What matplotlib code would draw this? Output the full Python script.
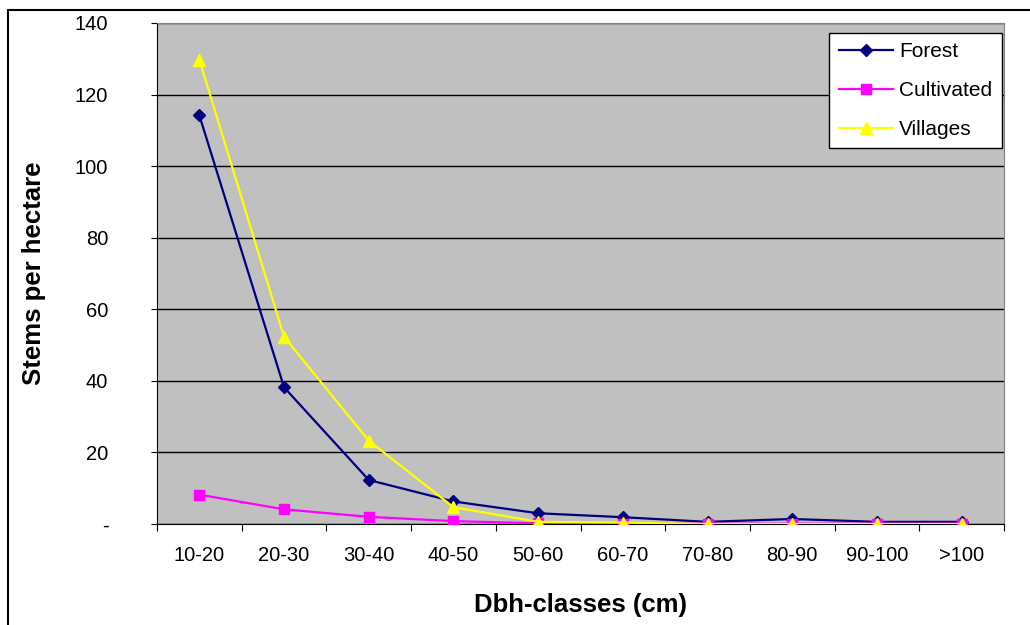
import numpy as np
import matplotlib
matplotlib.use("Agg")
import matplotlib.pyplot as plt
from matplotlib import patches

plt.rcParams["font.family"] = ["Liberation Sans", "DejaVu Sans"]

classes = ["10-20", "20-30", "30-40", "40-50", "50-60", "60-70", "70-80", "80-90", "90-100", ">100"]
forest = [114.2, 38.2, 12.3, 6.3, 3.0, 1.9, 0.6, 1.4, 0.6, 0.6]
cultivated = [8.2, 4.1, 2.0, 0.8, 0.2, 0.1, 0.1, 0.1, 0.1, 0.1]
villages = [129.8, 52.3, 23.3, 4.7, 0.6, 0.4, 0.0, 0.0, 0.0, 0.0]
yticks = [0, 20, 40, 60, 80, 100, 120, 140]
ytick_labels = ["-", "20", "40", "60", "80", "100", "120", "140"]

fig = plt.figure(figsize=(10.3, 6.25), dpi=100)
ax = fig.add_axes([0.1524, 0.1616, 0.8224, 0.8016])
ax.set_facecolor("#C0C0C0")

# outer chart border (right and bottom edges fall outside the image)
fig.patches.append(patches.Rectangle((0.008, -0.05), 1.05, 1.034, transform=fig.transFigure,
                                     fill=False, edgecolor="black", linewidth=1.5))

x = np.arange(len(classes))
ax.plot(x, forest, color="#000080", marker="D", markersize=6.5, linewidth=1.6, label="Forest", zorder=3)
ax.plot(x, cultivated, color="#FF00FF", marker="s", markersize=6.5, linewidth=1.6, label="Cultivated", zorder=3)
ax.plot(x, villages, color="#FFFF00", marker="^", markersize=8.5, linewidth=1.6, label="Villages", zorder=4)

ax.set_xlim(-0.5, len(classes) - 0.5)
ax.set_ylim(0, 140)
ax.set_yticks(yticks)
ax.set_yticklabels(ytick_labels)
ax.yaxis.grid(True, color="black", linewidth=1)
ax.set_axisbelow(True)

ax.set_xticks(np.arange(-0.5, len(classes)), minor=False)
ax.set_xticklabels([])
ax.set_xticks(x, minor=True)
ax.set_xticklabels(classes, minor=True)
ax.tick_params(axis="x", which="minor", length=0, pad=16, labelsize=14.5)
ax.tick_params(axis="x", which="major", direction="out", length=5)
ax.tick_params(axis="y", direction="out", length=4, labelsize=14.5, pad=31)

for side in ["top", "right"]:
    ax.spines[side].set_color("#808080")
ax.spines["left"].set_color("black")
ax.spines["bottom"].set_color("black")

ax.set_xlabel("Dbh-classes (cm)", fontsize=18.5, fontweight="bold", labelpad=20)
ax.set_ylabel("Stems per hectare", fontsize=18.5, fontweight="bold", labelpad=21)

leg = ax.legend(loc="upper right", bbox_to_anchor=(0.997, 0.98), fontsize=15, fancybox=False,
                framealpha=1, edgecolor="black", handlelength=2.6, handletextpad=0.3,
                borderpad=0.45, labelspacing=0.95, borderaxespad=0)
leg.get_frame().set_linewidth(1)

fig.savefig("out.png", dpi=100)
